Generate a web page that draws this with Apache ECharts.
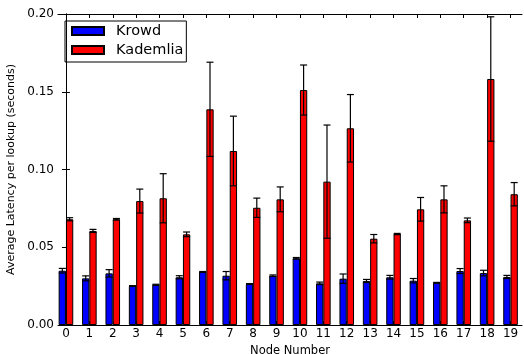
<!DOCTYPE html>
<html>
<head>
<meta charset="utf-8">
<script src="https://cdn.jsdelivr.net/npm/echarts@6/dist/echarts.min.js"></script>
<style>
  html, body { margin: 0; padding: 0; background: #fff; }
  #chart { width: 524px; height: 354px; }
</style>
</head>
<body>
<div id="chart"></div>
<script>
// node ids along the x axis
const nodes = ['0', '1', '2', '3', '4', '5', '6', '7', '8', '9',
  '10', '11', '12', '13', '14', '15', '16', '17', '18', '19'];

// average latency per lookup (seconds) and error bar half-heights
const krowdMean = [0.0349, 0.0300, 0.0332, 0.0251, 0.0259, 0.0307, 0.0341, 0.0317, 0.0264, 0.0317,
  0.0429, 0.0268, 0.0298, 0.0283, 0.0307, 0.0285, 0.0272, 0.0347, 0.0334, 0.0309];
const krowdErr = [0.0015, 0.0016, 0.0024, 0.0002, 0.0003, 0.0010, 0.0003, 0.0027, 0.0002, 0.0005,
  0.0005, 0.0008, 0.0030, 0.0010, 0.0012, 0.0014, 0.0002, 0.0016, 0.0018, 0.0010];
const kademliaMean = [0.0680, 0.0605, 0.0680, 0.0797, 0.0815, 0.0583, 0.1387, 0.1119, 0.0754, 0.0808,
  0.1511, 0.0922, 0.1265, 0.0555, 0.0585, 0.0744, 0.0808, 0.0673, 0.1582, 0.0841];
const kademliaErr = [0.0010, 0.0010, 0.0005, 0.0077, 0.0158, 0.0015, 0.0303, 0.0224, 0.0062, 0.0080,
  0.0161, 0.0364, 0.0217, 0.0027, 0.0004, 0.0076, 0.0087, 0.0015, 0.0400, 0.0075];

const yTicks = [0, 0.05, 0.10, 0.15, 0.20];

const FONT = 'DejaVu Sans';
const BAR_W = 7.3;
const idx = nodes.map((_, i) => i);

const chart = echarts.init(document.getElementById('chart'), null, { renderer: 'canvas' });

function barData(vals) {
  return vals.map((v, i) => [i, v]);
}
function errData(mean, err) {
  return mean.map((v, i) => [i, v, err[i]]);
}

// side: -1 = left bar of the pair, +1 = right bar
function errorBars(side) {
  return function (params, api) {
    const x = api.value(0);
    const v = api.value(1);
    const e = api.value(2);
    const hi = api.coord([x, v + e]);
    const lo = api.coord([x, v - e]);
    const cx = hi[0] + side * BAR_W / 2;
    const cap = 3.5;
    const st = { stroke: '#000', lineWidth: 1.2 };
    return {
      type: 'group',
      children: [
        { type: 'line', shape: { x1: cx, y1: hi[1], x2: cx, y2: lo[1] }, style: st },
        { type: 'line', shape: { x1: cx - cap, y1: hi[1], x2: cx + cap, y2: hi[1] }, style: st },
        { type: 'line', shape: { x1: cx - cap, y1: lo[1], x2: cx + cap, y2: lo[1] }, style: st }
      ]
    };
  };
}

const xBase = {
  type: 'value',
  min: -0.34,
  max: 19.49,
  splitLine: { show: false },
  axisLine: { show: true, onZero: false, lineStyle: { color: '#000', width: 1 } }
};
const yBase = {
  type: 'value',
  min: 0,
  max: 0.2,
  interval: 0.05,
  splitLine: { show: false },
  axisLine: { show: true, lineStyle: { color: '#000', width: 1 } },
  axisTick: { show: true, inside: true, length: 4, lineStyle: { color: '#000' } }
};

const option = {
  animation: false,
  backgroundColor: '#fff',
  textStyle: { fontFamily: FONT },
  grid: { left: 58, right: 2, top: 14, bottom: 29, outerBoundsMode: 'none', containLabel: false },
  legend: {
    data: ['Krowd', 'Kademlia'],
    orient: 'vertical',
    left: 65,
    top: 21,
    icon: 'rect',
    itemWidth: 32,
    itemHeight: 8,
    itemGap: 3,
    padding: [2, 3, 4, 6],
    borderColor: '#000',
    borderWidth: 1,
    borderRadius: 0,
    formatter: name => '{g|}' + name,
    textStyle: {
      fontSize: 14.5, lineHeight: 16, color: '#000', fontFamily: FONT,
      rich: { g: { width: 7 } }
    }
  },
  xAxis: [
    Object.assign({}, xBase, {
      position: 'bottom',
      name: 'Node Number',
      nameLocation: 'middle',
      nameGap: 15,
      nameTextStyle: { fontSize: 11.5, color: '#000', fontFamily: FONT },
      axisTick: { show: true, inside: true, length: 4, customValues: idx, lineStyle: { color: '#000' } },
      axisLabel: {
        show: true, customValues: idx, margin: 3, fontSize: 12, color: '#000', fontFamily: FONT,
        formatter: v => nodes[Math.round(v)]
      }
    }),
    Object.assign({}, xBase, {
      position: 'top',
      axisTick: { show: true, inside: true, length: 4, customValues: idx, lineStyle: { color: '#000' } },
      axisLabel: { show: false }
    })
  ],
  yAxis: [
    Object.assign({}, yBase, {
      position: 'left',
      name: 'Average Latency per lookup (seconds)',
      nameLocation: 'middle',
      nameGap: 30,
      nameTextStyle: { fontSize: 11, color: '#000', fontFamily: FONT },
      axisLabel: {
        margin: 4, fontSize: 12, color: '#000', fontFamily: FONT,
        customValues: yTicks,
        formatter: v => v.toFixed(2)
      }
    }),
    Object.assign({}, yBase, {
      position: 'right',
      axisLabel: { show: false }
    })
  ],
  series: [
    {
      name: 'Krowd',
      type: 'bar',
      xAxisIndex: 0,
      yAxisIndex: 0,
      barWidth: BAR_W,
      barGap: '0%',
      itemStyle: { color: '#0000ff', borderColor: '#000', borderWidth: 1 },
      data: barData(krowdMean)
    },
    {
      name: 'Kademlia',
      type: 'bar',
      xAxisIndex: 0,
      yAxisIndex: 0,
      barWidth: BAR_W,
      barGap: '0%',
      itemStyle: { color: '#ff0000', borderColor: '#000', borderWidth: 1 },
      data: barData(kademliaMean)
    },
    {
      type: 'custom',
      z: 5,
      xAxisIndex: 0,
      yAxisIndex: 0,
      renderItem: errorBars(-1),
      encode: { x: 0, y: 1 },
      data: errData(krowdMean, krowdErr)
    },
    {
      type: 'custom',
      z: 5,
      xAxisIndex: 0,
      yAxisIndex: 0,
      renderItem: errorBars(1),
      encode: { x: 0, y: 1 },
      data: errData(kademliaMean, kademliaErr)
    }
  ]
};

chart.setOption(option);
</script>
</body>
</html>
